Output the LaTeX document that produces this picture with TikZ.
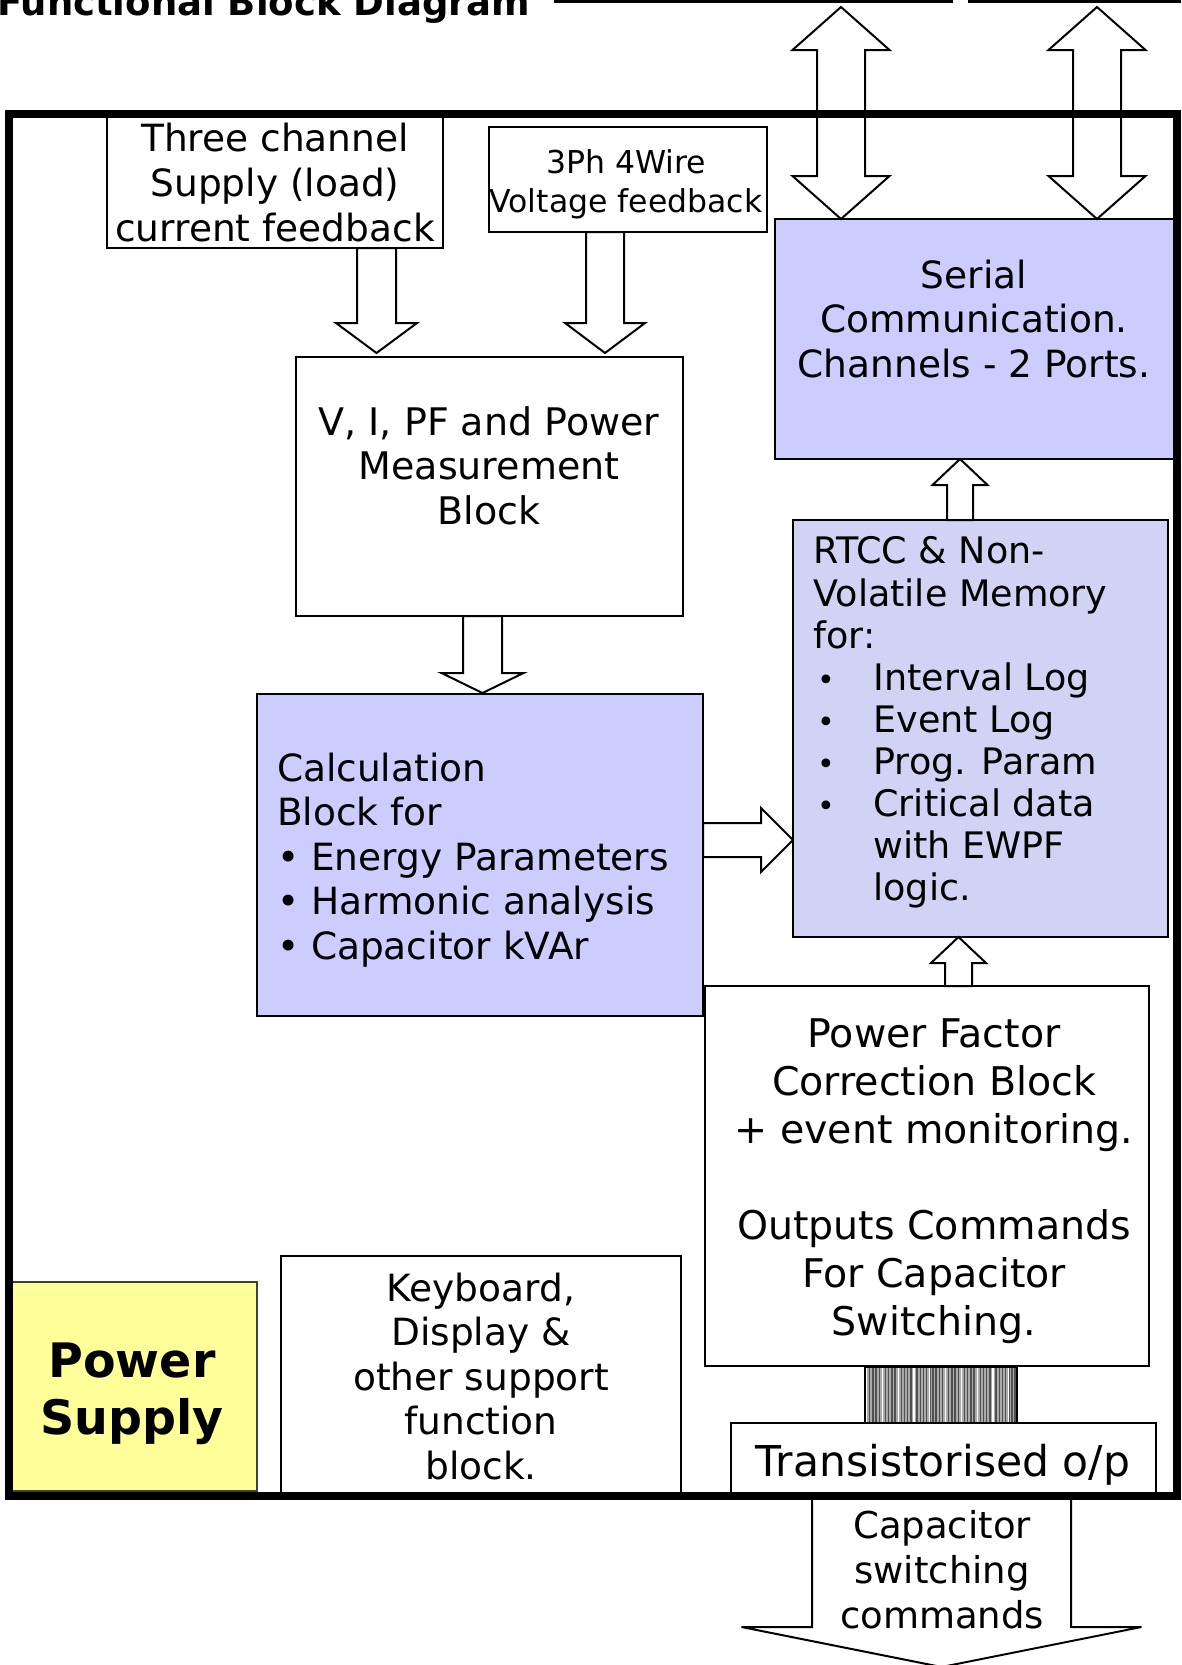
\documentclass[tikz,border=0pt]{standalone}
\usepackage{fontspec}
\setmainfont{DejaVu Sans}
\usetikzlibrary{calc}

\definecolor{lav}{RGB}{204,204,255}
\definecolor{lavgrey}{RGB}{210,210,245}
\definecolor{psyellow}{RGB}{255,255,153}
\definecolor{busgrey}{RGB}{170,170,170}
\definecolor{busdark}{RGB}{80,80,80}

\newcommand\fs[2]{\fontsize{#1}{#2}\selectfont}
\newcommand\bul{\makebox[60pt][l]{\hspace{4pt}{\fontsize{30}{30}\selectfont •}}}

% single block arrow: #1 tail, #2 tip, #3 shaft half width, #4 head half width, #5 head length
\newcommand\blockarrow[5]{%
  \coordinate (hb) at ($(#2)!#5!(#1)$);
  \draw[blk] ($(#1)!#3!90:(#2)$) -- ($(hb)!#3!90:(#2)$) -- ($(hb)!#4!90:(#2)$) -- (#2)
    -- ($(hb)!#4!-90:(#2)$) -- ($(hb)!#3!-90:(#2)$) -- ($(#1)!#3!-90:(#2)$) -- cycle;}

% double-headed block arrow between #1 and #2
\newcommand\dblarrow[5]{%
  \coordinate (hba) at ($(#1)!#5!(#2)$);
  \coordinate (hbb) at ($(#2)!#5!(#1)$);
  \draw[blk] (#1) -- ($(hba)!#4!90:(#2)$) -- ($(hba)!#3!90:(#2)$) -- ($(hbb)!#3!90:(#2)$)
    -- ($(hbb)!#4!90:(#2)$) -- (#2) -- ($(hbb)!#4!-90:(#2)$) -- ($(hbb)!#3!-90:(#2)$)
    -- ($(hba)!#3!-90:(#2)$) -- ($(hba)!#4!-90:(#2)$) -- cycle;}

\tikzset{
  box/.style={draw=black, line width=2pt, rectangle, inner sep=0pt, outer sep=0pt, fill=white},
  blk/.style={draw=black, line width=2pt, fill=white, line join=miter},
  txt/.style={inner sep=0pt, outer sep=0pt, anchor=north, align=center},
}

\begin{document}
\begin{tikzpicture}[x=1pt, y=-1pt]
\useasboundingbox (0,0) rectangle (1181,1665);

% ---- blocks ----
\node[box, minimum width=336, minimum height=134] (tc) at (275,181) {};
\node[box, minimum width=278, minimum height=105] (vf) at (628,179.5) {};
\node[box, fill=lav, minimum width=399, minimum height=240] (serial) at (974.5,339) {};
\node[box, minimum width=387, minimum height=259] (meas) at (489.5,486.5) {};
\node[box, fill=lav, minimum width=446, minimum height=322] (calc) at (480,855) {};
\node[box, fill=lavgrey, minimum width=375, minimum height=417] (rtcc) at (980.5,728.5) {};
\node[box, minimum width=444, minimum height=380] (pfc) at (927,1176) {};
\node[box, minimum width=400, minimum height=239] (kb) at (481,1375.5) {};
\node[box, draw=black!75, fill=psyellow, minimum width=248, minimum height=209] (ps) at (133,1386.5) {};
\node[box, minimum width=425, minimum height=72] (tr) at (943.5,1459) {};

% ---- output bus between correction block and transistor stage ----
\node[box, fill=busgrey, minimum width=152, minimum height=56] (bus) at (941,1395) {};
\foreach \i in {0,...,47}
  \draw[busdark, line width=1.4pt] ($(bus.north west)+(1.6+\i*3.16,1)$) -- ($(bus.south west)+(1.6+\i*3.16,-1)$);
\foreach \i in {0,5,...,45}
  \draw[white, line width=1.1pt] ($(bus.north west)+(1.6+\i*3.16,1)$) -- ($(bus.south west)+(1.6+\i*3.16,-1)$);
\draw[line width=2pt] (bus.north west) -- (bus.south west) (bus.north east) -- (bus.south east);

% ---- arrow end points ----
\coordinate (aT) at ($(tc.south west)+(269.5,0)$);
\coordinate (aH) at ($(aT |- meas.north)+(0,-4)$);
\coordinate (bT) at ($(vf.south west)+(116,0)$);
\coordinate (bH) at ($(bT |- meas.north)+(0,-4)$);
\coordinate (cT) at ($(meas.south west)+(186.5,0)$);
\coordinate (cH) at ($(cT |- calc.north)+(0,-1)$);
\coordinate (dT) at ($(calc.east)+(0,-15)$);
\coordinate (dH) at (dT -| rtcc.west);
\coordinate (eT) at ($(rtcc.north west)+(167,0)$);
\coordinate (eH) at (eT |- serial.south);
\coordinate (fT) at ($(pfc.north west)+(253.5,0)$);
\coordinate (fH) at (fT |- rtcc.south);
\coordinate (g1a) at (841,7);
\coordinate (g1b) at ($(serial.north west)+(66,0)$);
\coordinate (g2a) at (1097,7);
\coordinate (g2b) at ($(serial.north west)+(322,0)$);
\coordinate (hT) at ($(tr.south)+(-2,0)$);
\coordinate (hH) at (941.5,1667);

% ---- block arrows ----
\blockarrow{aT}{aH}{19.5pt}{40.5pt}{30pt}
\blockarrow{bT}{bH}{19pt}{40pt}{30pt}
\blockarrow{cT}{cH}{19.5pt}{41pt}{20pt}
\blockarrow{dT}{dH}{17pt}{32pt}{32pt}
\blockarrow{eT}{eH}{13pt}{27.5pt}{26pt}
\blockarrow{fT}{fH}{13.5pt}{27.5pt}{26pt}
\dblarrow{g1a}{g1b}{24pt}{48.5pt}{43pt}
\dblarrow{g2a}{g2b}{24pt}{48.5pt}{43pt}
\blockarrow{hT}{hH}{129.5pt}{200pt}{40pt}

% ---- enclosure ----
\node[draw=black, line width=8pt, inner sep=0pt, outer sep=0pt,
      minimum width=1168.5, minimum height=1381.5] (frame) at (592.75,804.75) {};
\draw[line width=3pt] (554,1) -- (953,1);
\draw[line width=3pt] (968,1) -- (1181,1);

% ---- texts ----
\node[anchor=base west, inner sep=0pt, font=\bfseries\fs{37}{40}] (title) at (-3,15) {Functional Block Diagram};
\node[txt, font=\fs{37.5}{45}] (tctext) at (275,119.5) {\strut Three channel\\Supply (load)\\current feedback};
\node[txt, font=\fs{31.5}{39}] (vftext) at (626,145.7) {\strut 3Ph 4Wire\\Voltage feedback};
\node[txt, font=\fs{37.5}{44.5}] (serialtext) at (974,256.9) {\strut Serial\\Communication.\\Channels - 2 Ports.};
\node[txt, font=\fs{38}{44.6}] (meastext) at (489,403.8) {\strut V, I, PF and Power\\Measurement\\Block};
\node[txt, anchor=north west, align=left, font=\fs{37.5}{44.5}] (calctext) at (277,749.9)
  {\strut Calculation\\Block for\\• Energy Parameters\\• Harmonic analysis\\• Capacitor kVAr};
\node[txt, anchor=north west, align=left, font=\fs{36.5}{42.1}] (rtcctext) at (813.5,534.5)
  {\strut RTCC \& Non-\\Volatile Memory\\for:\\\bul Interval Log\\\bul Event Log\\\bul Prog. Param\\\bul Critical data\\\hspace*{60pt}with EWPF\\\hspace*{60pt}logic.};
\node[txt, font=\fs{39.5}{48}] (pfctext) at (934,1013.4)
  {\strut Power Factor\\Correction Block\\+ event monitoring.\\\strut\\Outputs Commands\\For Capacitor\\Switching.};
\node[txt, font=\fs{37.5}{44.5}] (kbtext) at (481,1269.9) {\strut Keyboard,\\Display \&\\other support\\function\\block.};
\node[txt, font=\bfseries\fs{47.5}{57}] (pstext) at (132,1337.1) {\strut Power\\Supply};
\node[anchor=base, inner sep=0pt, font=\fs{42.5}{50}] (trtext) at (943,1476) {Transistorised o/p};
\node[txt, font=\fs{37}{45}] (captext) at (942,1506.5) {\strut Capacitor\\switching\\commands};
\end{tikzpicture}
\end{document}
